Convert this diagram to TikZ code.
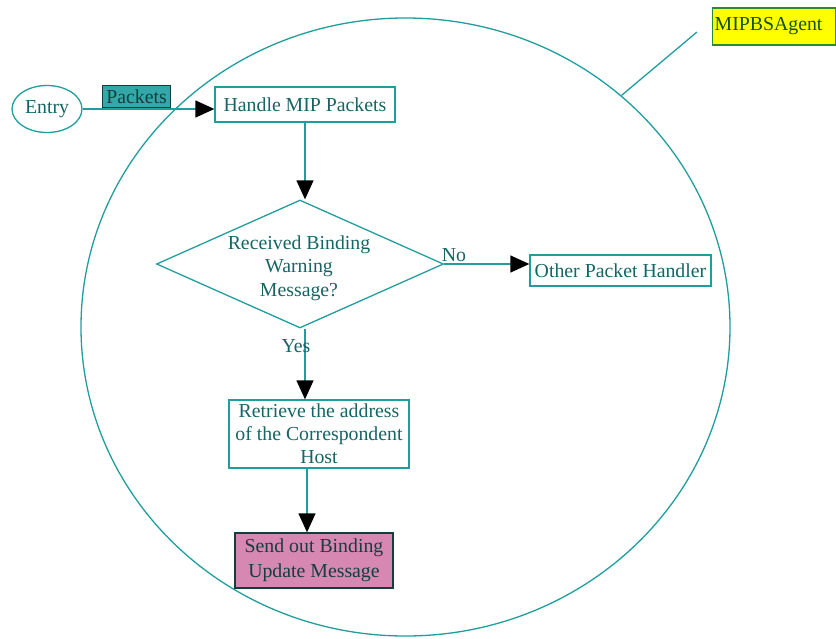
\documentclass[tikz,border=0pt]{standalone}
\usepackage{fontspec}
\setmainfont{Liberation Serif}
\usetikzlibrary{shapes.geometric,arrows.meta}

\definecolor{lineteal}{RGB}{32,158,158}
\definecolor{textteal}{RGB}{22,100,100}
\definecolor{darkteal}{RGB}{20,62,62}
\definecolor{packetfill}{RGB}{52,168,168}
\definecolor{sendfill}{RGB}{214,136,178}
\definecolor{tagyellow}{RGB}{255,255,0}
\definecolor{tagborder}{RGB}{40,140,40}
\definecolor{taggreen}{RGB}{22,80,22}

\tikzset{
  base/.style={font=\fontsize{19.8}{23.5}\selectfont, text=textteal, inner sep=0pt, align=center},
  procbox/.style={base, draw=lineteal, line width=1.3pt, rectangle},
  decision/.style={draw=lineteal, line width=1.3pt, diamond, inner sep=0pt},
  flow/.style={draw=lineteal, line width=1.3pt,
    -{Triangle[length=19pt,width=17pt,color=black,fill=black]}},
  plain/.style={draw=lineteal, line width=1.3pt},
}

\begin{document}
\begin{tikzpicture}[x=1pt,y=-1pt]
\useasboundingbox (0,0) rectangle (836,638);

% the agent boundary
\node[ellipse, draw=lineteal, line width=1.3pt, inner sep=0pt,
      minimum width=649pt, minimum height=618pt] (agentzone) at (405.5,327) {};

% agent tag and its pointer
\node[base, draw=tagborder, line width=1.3pt, fill=tagyellow, text=taggreen,
      minimum width=123pt, minimum height=37pt, anchor=west, inner xsep=2pt,
      text width=119pt, align=left] (agenttag) at (712,26.5) {MIPBSAgent};
\coordinate (tagend) at (697,32);
\draw[plain] (tagend) -- (agentzone.47.6);

% entry point
\node[base, ellipse, draw=lineteal, line width=1.3pt,
      minimum width=70pt, minimum height=47pt] (entry) at (47,109) {Entry};

% flow chart
\node[procbox, minimum width=180pt, minimum height=35pt] (handle) at (305,104.5) {Handle MIP Packets};

\node[decision, minimum width=287pt, minimum height=128pt] (check) at (300,264) {};
\node[base] (checktext) at (299,268) {Received Binding\\Warning\\Message?};

\node[procbox, minimum width=181pt, minimum height=31pt] (other) at (620.5,270.5) {Other Packet Handler};

\node[procbox, minimum width=180pt, minimum height=68pt,
      font=\fontsize{19.8}{23}\selectfont] (retrieve) at (319,434)
      {Retrieve the address\\of the Correspondent\\Host};

\node[procbox, fill=sendfill, draw=darkteal, text=darkteal,
      minimum width=158pt, minimum height=55pt,
      font=\fontsize{19.8}{25}\selectfont] (send) at (314,560.5)
      {Send out Binding\\Update Message};

% connectors
\draw[flow] (entry.east) -- node[pos=0.41, anchor=south, yshift=1pt, base,
      fill=packetfill, draw=darkteal, line width=0.8pt, text=darkteal,
      minimum width=68pt, minimum height=22pt] (packets) {Packets}
      (entry.east -| handle.west);

\coordinate (h1) at (handle.south);
\draw[flow] (h1) -- (h1 |- check.north);

\draw[flow] (check.east) -- node[pos=0, anchor=south west, xshift=-3pt, yshift=2pt, base] (nolabel) {No}
      (check.east -| other.west);

\coordinate (c1) at ([xshift=5pt]check.south);
\draw[flow] (c1) -- node[pos=0.24, base, xshift=-9pt] (yeslabel) {Yes} (c1 |- retrieve.north);

\coordinate (r1) at ([xshift=-12pt]retrieve.south);
\draw[flow] (r1) -- (r1 |- send.north);
\end{tikzpicture}
\end{document}
